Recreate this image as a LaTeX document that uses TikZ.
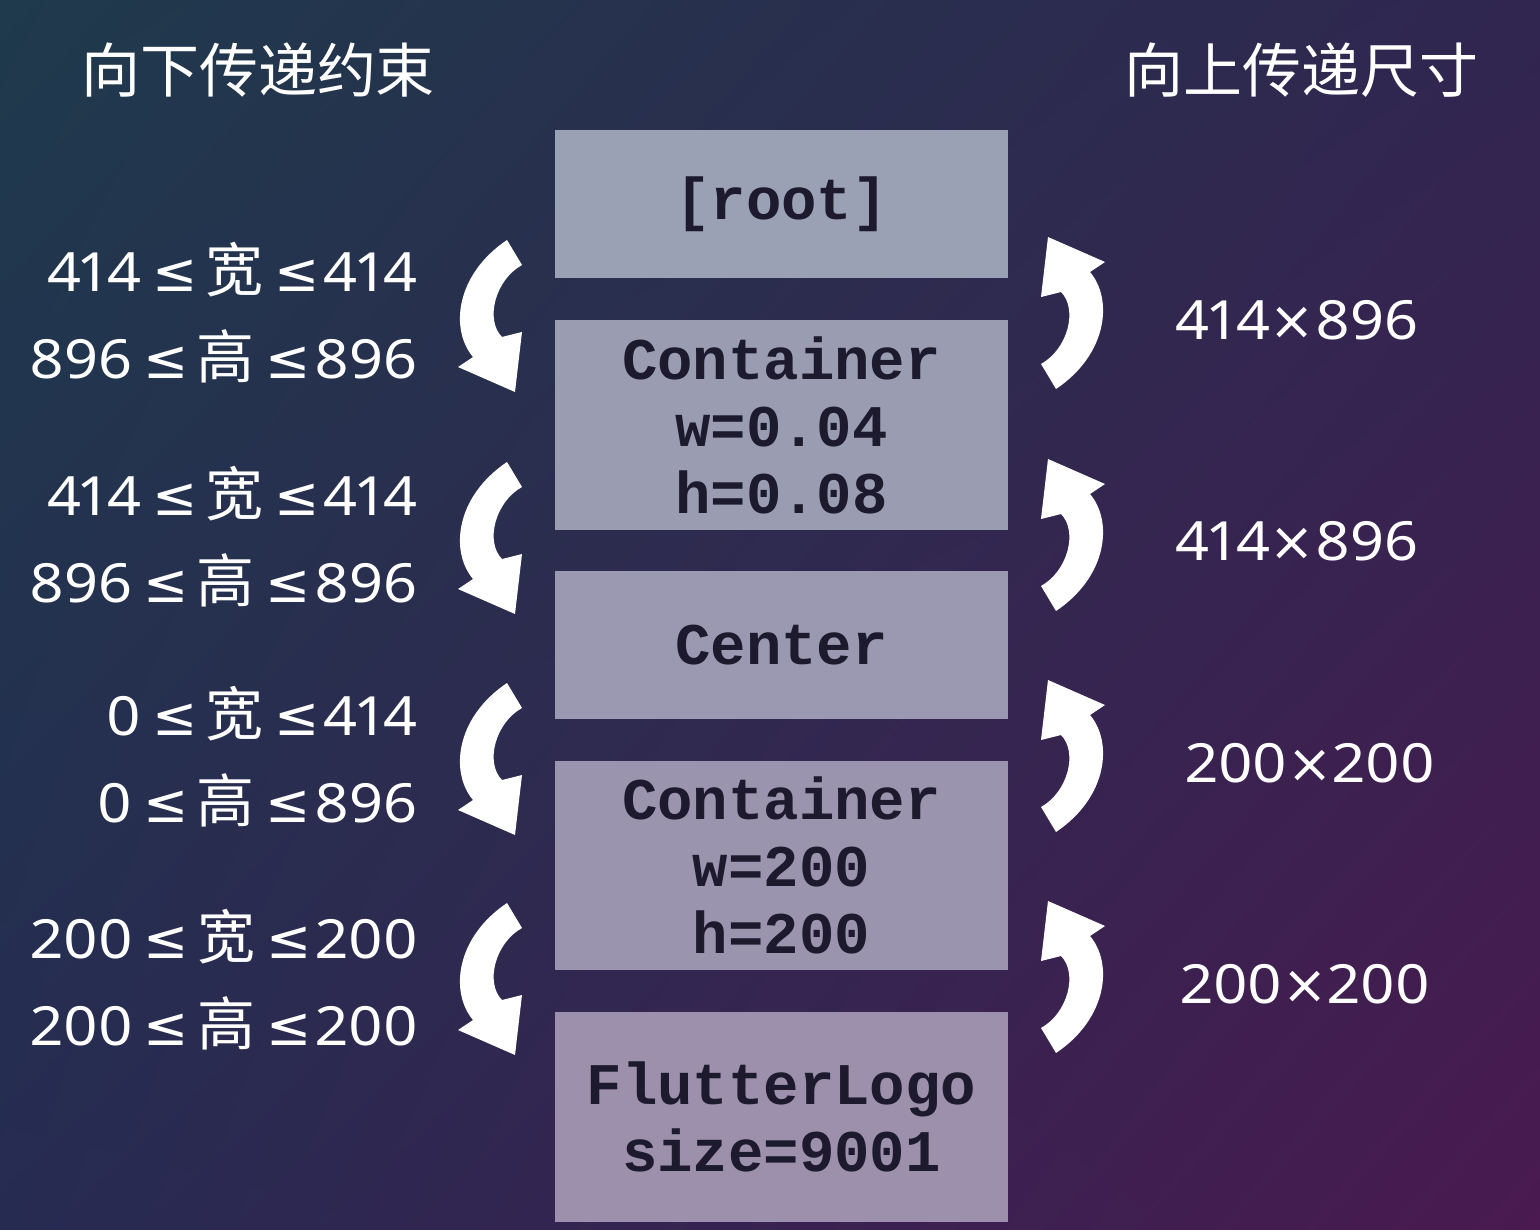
\documentclass[tikz,border=0pt]{standalone}
\usepackage{fontspec}
\usetikzlibrary{shadings}
\setmainfont{Noto Sans}[FakeStretch=1.1, Numbers=Proportional]
\newfontfamily\cjk{Noto Sans CJK SC}
\newfontfamily\symf{DejaVu Sans}
\newfontfamily\boxfont{Liberation Mono}
\newcommand\mklabel[3]{#1\hspace{11pt}{\symf ≤}\hspace{8pt}{\cjk\fontsize{58}{60}\selectfont #2}\hspace{11pt}{\symf ≤}\hspace{4pt}#3}
\newcommand\mksize[2]{#1{\symf ×}#2}
\definecolor{bgTL}{HTML}{1F3A4C}
\definecolor{bgTR}{HTML}{302650}
\definecolor{bgBL}{HTML}{262B52}
\definecolor{bgBR}{HTML}{4A1A50}
\definecolor{boxA}{HTML}{9AA1B4}
\definecolor{boxB}{HTML}{9A9DB2}
\definecolor{boxC}{HTML}{9B99B1}
\definecolor{boxD}{HTML}{9B94AF}
\definecolor{boxE}{HTML}{9C90AD}
\definecolor{boxtext}{HTML}{1C1A2C}
\tikzset{
  blk/.style={fill=#1, minimum width=453pt, inner sep=0pt, align=center,
    font=\boxfont\bfseries\fontsize{59}{67}\selectfont, text=boxtext},
  lab/.style={font=\fontsize{54}{60}\selectfont, text=white, inner sep=0pt},
  ttl/.style={font=\cjk\fontsize{59}{62}\selectfont, text=white, inner sep=0pt},
  bentarrow/.pic={
    \fill[white] (17,-76) -- (32,-51) .. controls (5,-36) and (-5,4) .. (12,21)
      -- (32,16) -- (25,76) -- (-32,51) -- (-17,41)
      .. controls (-40,14) and (-35,-41) .. (17,-76) -- cycle;
  }
}
\begin{document}
\begin{tikzpicture}[x=1pt,y=-1pt]
\shade[upper left=bgTL, upper right=bgTR, lower left=bgBL, lower right=bgBR] (0,0) rectangle (1540,1230);
\useasboundingbox (0,0) rectangle (1540,1230);

% titles
\node[ttl] (tleft) at (258,70) {向下传递约束};
\node[ttl] (tright) at (1301,70) {向上传递尺寸};

% boxes
\node[blk=boxA, minimum height=148pt] (root) at (781.5,204) {[root]};
\node[blk=boxB, minimum height=210pt] (cont1) at (781.5,425) {Container\\w=0.04\\h=0.08};
\node[blk=boxC, minimum height=148pt] (center) at (781.5,645) {Center};
\node[blk=boxD, minimum height=209pt] (cont2) at (781.5,865.5) {Container\\w=200\\h=200};
\node[blk=boxE, minimum height=210pt] (logo) at (781.5,1117) {FlutterLogo\\size=9001};

% left constraint labels
\node[lab, anchor=base east] (c1w) at (418,292) {\mklabel{414}{宽}{414}};
\node[lab, anchor=base east] (c1h) at (418,379) {\mklabel{896}{高}{896}};
\node[lab, anchor=base east] (c2w) at (418,515) {\mklabel{414}{宽}{414}};
\node[lab, anchor=base east] (c2h) at (418,602) {\mklabel{896}{高}{896}};
\node[lab, anchor=base east] (c3w) at (418,735) {\mklabel{0}{宽}{414}};
\node[lab, anchor=base east] (c3h) at (418,822) {\mklabel{0}{高}{896}};
\node[lab, anchor=base east] (c4w) at (418,958) {\mklabel{200}{宽}{200}};
\node[lab, anchor=base east] (c4h) at (418,1045) {\mklabel{200}{高}{200}};

% right size labels
\node[lab, anchor=base] (s1) at (1297,340) {\mksize{414}{896}};
\node[lab, anchor=base] (s2) at (1297,560) {\mksize{414}{896}};
\node[lab, anchor=base] (s3) at (1310,782) {\mksize{200}{200}};
\node[lab, anchor=base] (s4) at (1305,1003) {\mksize{200}{200}};

% arrows down (left)
\pic at (490,316) {bentarrow};
\pic at (490,538) {bentarrow};
\pic at (490,759) {bentarrow};
\pic at (490,979) {bentarrow};
% arrows up (right)
\pic[rotate=180] at (1073,313) {bentarrow};
\pic[rotate=180] at (1073,535) {bentarrow};
\pic[rotate=180] at (1073,756) {bentarrow};
\pic[rotate=180] at (1073,977) {bentarrow};
\end{tikzpicture}
\end{document}
